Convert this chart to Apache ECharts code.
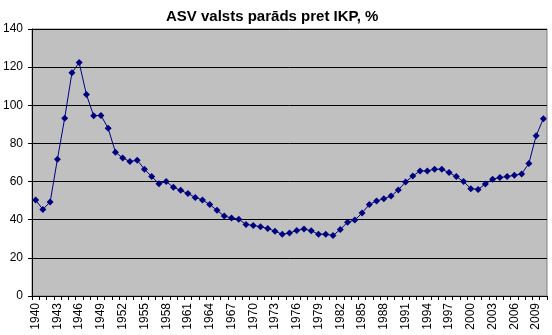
<!DOCTYPE html>
<html>
<head>
<meta charset="utf-8">
<script src="https://cdn.jsdelivr.net/npm/echarts@6/dist/echarts.min.js"></script>
<style>
  html, body { margin: 0; padding: 0; background: #fff; }
  #chart { width: 552px; height: 335px; }
</style>
</head>
<body>
<div id="chart"></div>
<script>
// Years on the category axis
const years = [];
for (let y = 1940; y <= 2010; y++) years.push(String(y));

// Federal debt as a share of GDP, %
const debtPct = [
  50.3, 45.4, 49.3, 71.7, 93.2, 117.0, 122.4, 105.6, 94.5, 94.7,
  87.9, 75.4, 72.4, 70.5, 71.2, 66.5, 62.6, 58.9, 60.0, 57.0,
  55.4, 53.7, 51.7, 50.3, 48.0, 44.9, 41.9, 40.9, 40.3, 37.5,
  37.0, 36.3, 35.4, 34.0, 32.4, 33.0, 34.4, 35.1, 34.2, 32.4,
  32.4, 31.7, 34.9, 38.7, 39.8, 43.5, 48.0, 49.8, 51.0, 52.4,
  55.6, 59.8, 62.9, 65.6, 65.6, 66.5, 66.5, 64.7, 62.6, 60.0,
  56.3, 55.9, 58.7, 61.2, 62.1, 62.6, 63.3, 64.0, 69.5, 84.0,
  93.0
];

// Value axis ticks
const yMin = 0, yMax = 140, yStep = 20;

const chart = echarts.init(document.getElementById('chart'), null, { renderer: 'canvas' });
const font = 'Liberation Sans, Arial, sans-serif';

chart.setOption({
  animation: false,
  title: {
    text: 'ASV valsts parāds pret IKP, %',
    left: 161,
    top: 4,
    textStyle: { fontFamily: font, fontSize: 15, fontWeight: 'bold', color: '#000' }
  },
  grid: {
    left: 31, right: 5, top: 29, bottom: 39,
    show: true,
    backgroundColor: '#c0c0c0',
    borderColor: '#808080',
    borderWidth: 1
  },
  xAxis: {
    type: 'category',
    data: years,
    boundaryGap: true,
    axisLine: { lineStyle: { color: '#000', width: 1 } },
    axisTick: { show: true, interval: 0, length: 4, lineStyle: { color: '#000' } },
    axisLabel: {
      interval: 2,
      rotate: 90,
      margin: 7,
      fontFamily: font,
      fontSize: 12,
      color: '#000'
    },
    splitLine: { show: false }
  },
  yAxis: {
    type: 'value',
    min: yMin, max: yMax, interval: yStep,
    axisLine: { show: true, lineStyle: { color: '#000', width: 1 } },
    axisTick: { show: true, length: 4, lineStyle: { color: '#000' } },
    axisLabel: { margin: 9, fontFamily: font, fontSize: 12, color: '#000' },
    splitLine: { show: true, lineStyle: { color: '#000', width: 1 } }
  },
  series: [{
    type: 'line',
    data: debtPct,
    symbol: 'diamond',
    symbolSize: 7,
    showAllSymbol: true,
    lineStyle: { color: '#000080', width: 1 },
    itemStyle: { color: '#000080', borderWidth: 0 }
  }]
});
</script>
</body>
</html>
